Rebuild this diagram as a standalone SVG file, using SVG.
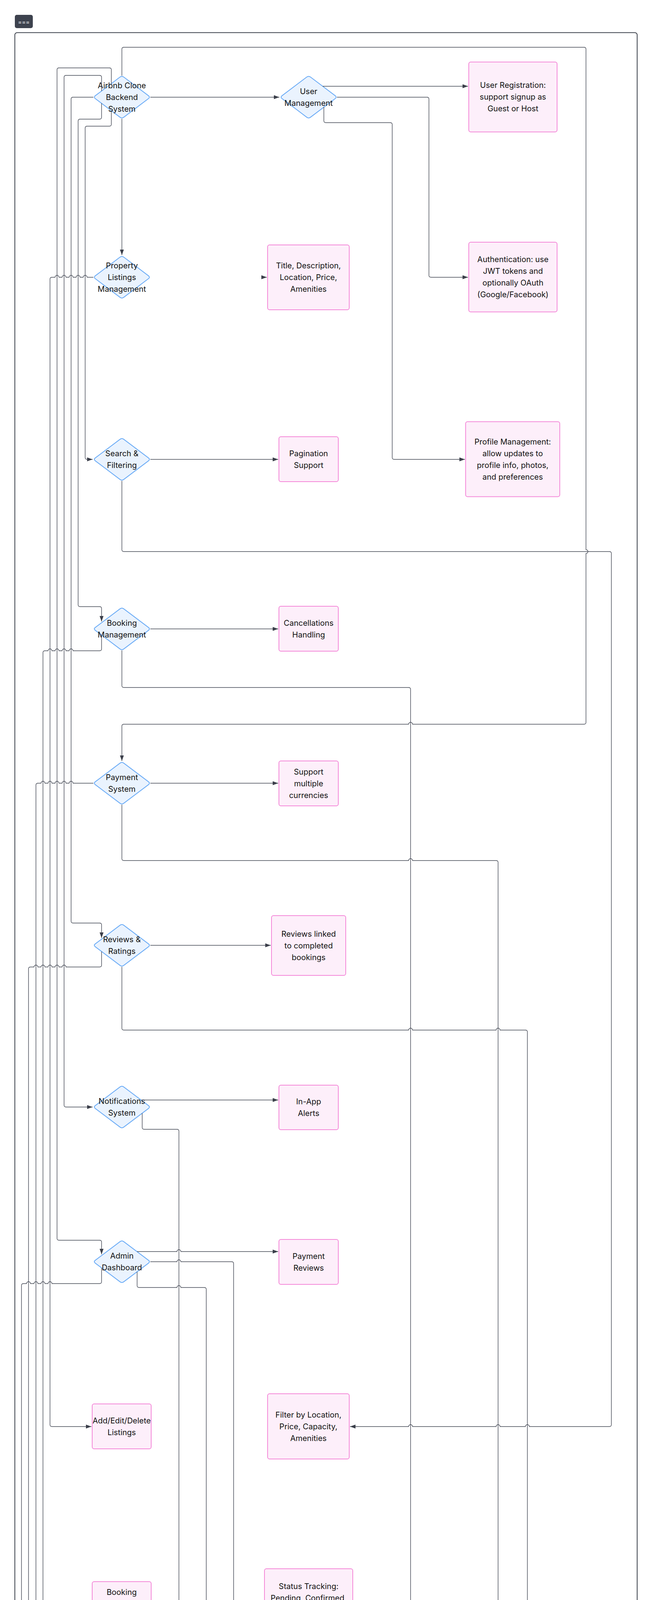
<svg xmlns="http://www.w3.org/2000/svg" width="1669" height="5967" viewBox="0 0 1669 5967">
<style>
.dia{fill:#eaf3fe;stroke:#68aaf6;stroke-width:2}
.box{fill:#fdeffa;stroke:#f48ad9;stroke-width:2}
.lbl{font-family:Inter,"Noto Sans","Liberation Sans",sans-serif;font-size:20px;fill:#111;text-anchor:middle}
.edge{fill:none;stroke:#434854;stroke-width:1.4;marker-end:url(#ah)}
</style>
<defs>
<marker id="ah" viewBox="0 0 14 10" refX="14" refY="5" markerWidth="14" markerHeight="10" markerUnits="userSpaceOnUse" orient="auto"><path d="M0,0 L14,5 L0,10 Z" fill="#3b3f4a"/></marker>
<path id="dia" d="M-4.8,-51.4 Q0,-55 4.8,-51.4 L68.2,-3.6 Q73,0 68.2,3.6 L4.8,51.4 Q0,55 -4.8,51.4 L-68.2,3.6 Q-73,0 -68.2,-3.6 Z"/>
</defs>
<rect x="0" y="0" width="1669" height="5967" fill="#ffffff"/>
<g id="badge">
<rect x="38" y="38" width="46" height="34" rx="5" fill="#3d424e"/>
<text x="61" y="62" font-family="Inter,'Liberation Sans',sans-serif" font-size="15" fill="#ffffff" text-anchor="middle">===</text>
</g>
<rect id="frame" x="38" y="83.5" width="1593" height="5847.5" rx="6" fill="none" stroke="#3b404b" stroke-width="2"/>

<g id="nodes">
<g id="n-root" transform="translate(312,248.7)"><use href="#dia" class="dia"/><text class="lbl"><tspan x="0" y="-23">Airbnb Clone</tspan><tspan x="0" y="7">Backend</tspan><tspan x="0" y="37">System</tspan></text></g>
<g id="n-usermgmt" transform="translate(790,248.7)"><use href="#dia" class="dia"/><text class="lbl"><tspan x="0" y="-8">User</tspan><tspan x="0" y="22">Management</tspan></text></g>
<g id="n-listings" transform="translate(312,709.7)"><use href="#dia" class="dia"/><text class="lbl"><tspan x="0" y="-23">Property</tspan><tspan x="0" y="7">Listings</tspan><tspan x="0" y="37">Management</tspan></text></g>
<g id="n-search" transform="translate(312,1176)"><use href="#dia" class="dia"/><text class="lbl"><tspan x="0" y="-8">Search &amp;</tspan><tspan x="0" y="22">Filtering</tspan></text></g>
<g id="n-booking" transform="translate(312,1610)"><use href="#dia" class="dia"/><text class="lbl"><tspan x="0" y="-8">Booking</tspan><tspan x="0" y="22">Management</tspan></text></g>
<g id="n-payment" transform="translate(312,2005)"><use href="#dia" class="dia"/><text class="lbl"><tspan x="0" y="-8">Payment</tspan><tspan x="0" y="22">System</tspan></text></g>
<g id="n-reviews" transform="translate(312,2420)"><use href="#dia" class="dia"/><text class="lbl"><tspan x="0" y="-8">Reviews &amp;</tspan><tspan x="0" y="22">Ratings</tspan></text></g>
<g id="n-notif" transform="translate(312,2834)"><use href="#dia" class="dia"/><text class="lbl"><tspan x="0" y="-8">Notifications</tspan><tspan x="0" y="22">System</tspan></text></g>
<g id="n-admin" transform="translate(312,3230)"><use href="#dia" class="dia"/><text class="lbl"><tspan x="0" y="-8">Admin</tspan><tspan x="0" y="22">Dashboard</tspan></text></g>

<g id="n-registration" transform="translate(1313,248.3)"><rect class="box" x="-113" y="-89.5" width="226" height="179" rx="5"/><text class="lbl"><tspan x="0" y="-23">User Registration:</tspan><tspan x="0" y="7">support signup as</tspan><tspan x="0" y="37">Guest or Host</tspan></text></g>
<g id="n-auth" transform="translate(1313,709.2)"><rect class="box" x="-113" y="-89.25" width="226" height="178.5" rx="5"/><text class="lbl"><tspan x="0" y="-38">Authentication: use</tspan><tspan x="0" y="-8">JWT tokens and</tspan><tspan x="0" y="22">optionally OAuth</tspan><tspan x="0" y="52">(Google/Facebook)</tspan></text></g>
<g id="n-profile" transform="translate(1312.4,1175.5)"><rect class="box" x="-120.5" y="-96" width="241" height="192" rx="5"/><text class="lbl"><tspan x="0" y="-38">Profile Management:</tspan><tspan x="0" y="-8">allow updates to</tspan><tspan x="0" y="22">profile info, photos,</tspan><tspan x="0" y="52">and preferences</tspan></text></g>
<g id="n-title" transform="translate(789.5,710)"><rect class="box" x="-104.5" y="-83" width="209" height="166" rx="5"/><text class="lbl"><tspan x="0" y="-23">Title, Description,</tspan><tspan x="0" y="7">Location, Price,</tspan><tspan x="0" y="37">Amenities</tspan></text></g>
<g id="n-pagination" transform="translate(790,1175.5)"><rect class="box" x="-76" y="-57.5" width="152" height="115" rx="5"/><text class="lbl"><tspan x="0" y="-8">Pagination</tspan><tspan x="0" y="22">Support</tspan></text></g>
<g id="n-cancel" transform="translate(790,1609.5)"><rect class="box" x="-76" y="-57.5" width="152" height="115" rx="5"/><text class="lbl"><tspan x="0" y="-8">Cancellations</tspan><tspan x="0" y="22">Handling</tspan></text></g>
<g id="n-currencies" transform="translate(790,2005.5)"><rect class="box" x="-76" y="-57.5" width="152" height="115" rx="5"/><text class="lbl"><tspan x="0" y="-23">Support</tspan><tspan x="0" y="7">multiple</tspan><tspan x="0" y="37">currencies</tspan></text></g>
<g id="n-reviewslinked" transform="translate(790,2420.5)"><rect class="box" x="-95" y="-76.5" width="190" height="153" rx="5"/><text class="lbl"><tspan x="0" y="-23">Reviews linked</tspan><tspan x="0" y="7">to completed</tspan><tspan x="0" y="37">bookings</tspan></text></g>
<g id="n-inapp" transform="translate(790,2835)"><rect class="box" x="-76" y="-57" width="152" height="114" rx="5"/><text class="lbl"><tspan x="0" y="-8">In-App</tspan><tspan x="0" y="22">Alerts</tspan></text></g>
<g id="n-payreviews" transform="translate(790,3230.5)"><rect class="box" x="-76" y="-57.5" width="152" height="115" rx="5"/><text class="lbl"><tspan x="0" y="-8">Payment</tspan><tspan x="0" y="22">Reviews</tspan></text></g>
<g id="n-addedit" transform="translate(311.5,3651.5)"><rect class="box" x="-75.5" y="-57.5" width="151" height="115" rx="5"/><text class="lbl"><tspan x="0" y="-8">Add/Edit/Delete</tspan><tspan x="0" y="22">Listings</tspan></text></g>
<g id="n-filter" transform="translate(789.5,3651.5)"><rect class="box" x="-104.5" y="-83.5" width="209" height="167" rx="5"/><text class="lbl"><tspan x="0" y="-23">Filter by Location,</tspan><tspan x="0" y="7">Price, Capacity,</tspan><tspan x="0" y="37">Amenities</tspan></text></g>
<g id="n-bookingcreation" transform="translate(311.5,4106)"><rect class="box" x="-75.5" y="-57" width="151" height="114" rx="5"/><text class="lbl"><tspan x="0" y="-23">Booking</tspan><tspan x="0" y="7">Creation &amp;</tspan><tspan x="0" y="37">Validation</tspan></text></g>
<g id="n-status" transform="translate(790,4106)"><rect class="box" x="-113" y="-90" width="226" height="180" rx="5"/><text class="lbl"><tspan x="0" y="-38">Status Tracking:</tspan><tspan x="0" y="-8">Pending, Confirmed,</tspan><tspan x="0" y="22">Canceled,</tspan><tspan x="0" y="52">Completed</tspan></text></g>
<g id="n-integration" transform="translate(311.5,4573.5)"><rect class="box" x="-75.5" y="-57.5" width="151" height="115" rx="5"/><text class="lbl"><tspan x="0" y="-23">Integration</tspan><tspan x="0" y="7">with Stripe &amp;</tspan><tspan x="0" y="37">PayPal</tspan></text></g>
<g id="n-handle" transform="translate(790,4573)"><rect class="box" x="-121.5" y="-95" width="243" height="190" rx="5"/><text class="lbl"><tspan x="0" y="-38">Handle guest</tspan><tspan x="0" y="-8">payments and</tspan><tspan x="0" y="22">automate payouts to</tspan><tspan x="0" y="52">hosts</tspan></text></g>
<g id="n-guests" transform="translate(311.5,5007.5)"><rect class="box" x="-75.5" y="-57.5" width="151" height="115" rx="5"/><text class="lbl"><tspan x="0" y="-23">Guests</tspan><tspan x="0" y="7">Review</tspan><tspan x="0" y="37">Properties</tspan></text></g>
<g id="n-hosts" transform="translate(790,5007.5)"><rect class="box" x="-76" y="-57.5" width="152" height="115" rx="5"/><text class="lbl"><tspan x="0" y="-23">Hosts</tspan><tspan x="0" y="7">Respond to</tspan><tspan x="0" y="37">Reviews</tspan></text></g>
<g id="n-email" transform="translate(311.5,5403)"><rect class="box" x="-75.5" y="-57" width="151" height="114" rx="5"/><text class="lbl"><tspan x="0" y="-8">Email</tspan><tspan x="0" y="22">Notifications</tspan></text></g>
<g id="n-usermgmt2" transform="translate(790,5403)"><rect class="box" x="-76" y="-57" width="152" height="114" rx="5"/><text class="lbl"><tspan x="0" y="-8">User</tspan><tspan x="0" y="22">Management</tspan></text></g>
<g id="n-propmon" transform="translate(311.5,5798)"><rect class="box" x="-75.5" y="-57" width="151" height="114" rx="5"/><text class="lbl"><tspan x="0" y="-8">Property</tspan><tspan x="0" y="22">Monitoring</tspan></text></g>
<g id="n-oversight" transform="translate(790,5798)"><rect class="box" x="-76" y="-57" width="152" height="114" rx="5"/><text class="lbl"><tspan x="0" y="-8">Booking</tspan><tspan x="0" y="22">Oversight</tspan></text></g>
</g>

<g id="connectors">
<path class="edge" d="M385,248.7 L715,248.7"/>
<path class="edge" d="M312,304 L312,653"/>
<path class="edge" d="M312,193.7 L312,126 Q312,121 317,121 L1495,121 Q1500,121 1500,126 L1500,1407 A5,5 0 0 1 1500,1417 L1500,1849 Q1500,1854 1495,1854 L1056,1854 A5,5 0 0 0 1046,1854 L317,1854 Q312,1854 312,1859 L312,1948"/>
<path class="edge" d="M285,283.4 L285,318 Q285,323 280,323 L223,323 Q218,323 218,328 L218,1171 Q218,1176 223,1176 L237,1176"/>
<path class="edge" d="M260,264.5 L260,300 Q260,305 255,305 L205,305 Q200,305 200,310 L200,1548 Q200,1553 205,1553 L255,1553 Q260,1553 260,1558 L260,1591"/>
<path class="edge" d="M239,248.7 L187,248.7 Q182,248.7 182,253.7 L182,2358 Q182,2363 187,2363 L255,2363 Q260,2363 260,2368 L260,2401"/>
<path class="edge" d="M260,232.9 L260,198 Q260,193 255,193 L169,193 Q164,193 164,198 L164,2829 Q164,2834 169,2834 L237,2834"/>
<path class="edge" d="M285,214 L285,178.7 Q285,173.7 280,173.7 L151,173.7 Q146,173.7 146,178.7 L146,3170 Q146,3175 151,3175 L255,3175 Q260,3175 260,3180 L260,3211"/>
<path class="edge" d="M826,220.7 L1198,220.7"/>
<path class="edge" d="M862.5,248.7 L1093,248.7 Q1098,248.7 1098,253.7 L1098,704.7 Q1098,709.7 1103,709.7 L1198,709.7"/>
<path class="edge" d="M829,274 L829,309 Q829,314 834,314 L999,314 Q1004,314 1004,319 L1004,1171 Q1004,1176 1009,1176 L1190,1176"/>
<path class="edge" d="M669,709.7 L683,709.7"/>
<path class="edge" d="M239,709.7 L223,709.7 A5,5 0 0 0 213,709.7 L205,709.7 A5,5 0 0 0 195,709.7 L187,709.7 A5,5 0 0 0 177,709.7 L169,709.7 A5,5 0 0 0 159,709.7 L151,709.7 A5,5 0 0 0 141,709.7 L133,709.7 Q128,709.7 128,714.7 L128,3647 Q128,3652 133,3652 L234,3652"/>
<path class="edge" d="M385,1176 L712,1176"/>
<path class="edge" d="M312,1231 L312,1407 Q312,1412 317,1412 L1560,1412 Q1565,1412 1565,1417 L1565,3647 Q1565,3652 1560,3652 L1355,3652 A5,5 0 0 0 1345,3652 L1280,3652 A5,5 0 0 0 1270,3652 L1056,3652 A5,5 0 0 0 1046,3652 L896,3652"/>
<path class="edge" d="M385,1610 L712,1610"/>
<path class="edge" d="M312,1665 L312,1755 Q312,1760 317,1760 L1046,1760 Q1051,1760 1051,1765 L1051,4102 Q1051,4107 1046,4107 L905,4107"/>
<path class="edge" d="M260,1626 L260,1661 Q260,1666 255,1666 L187,1666 A5,5 0 0 0 177,1666 L169,1666 A5,5 0 0 0 159,1666 L151,1666 A5,5 0 0 0 141,1666 L133,1666 A5,5 0 0 0 123,1666 L115,1666 Q110,1666 110,1671 L110,4102 Q110,4107 115,4107 L234,4107"/>
<path class="edge" d="M385,2005 L712,2005"/>
<path class="edge" d="M312,2060 L312,2198 Q312,2203 317,2203 L1046,2203 A5,5 0 0 1 1056,2203 L1270,2203 Q1275,2203 1275,2208 L1275,4568 Q1275,4573 1270,4573 L913,4573"/>
<path class="edge" d="M239,2005 L187,2005 A5,5 0 0 0 177,2005 L169,2005 A5,5 0 0 0 159,2005 L151,2005 A5,5 0 0 0 141,2005 L133,2005 A5,5 0 0 0 123,2005 L115,2005 A5,5 0 0 0 105,2005 L97,2005 Q92,2005 92,2010 L92,4568 Q92,4573 97,4573 L234,4573"/>
<path class="edge" d="M385,2420 L693,2420"/>
<path class="edge" d="M312,2475 L312,2632 Q312,2637 317,2637 L1046,2637 A5,5 0 0 1 1056,2637 L1270,2637 A5,5 0 0 1 1280,2637 L1345,2637 Q1350,2637 1350,2642 L1350,5002 Q1350,5007 1345,5007 L868,5007"/>
<path class="edge" d="M260,2436 L260,2470.5 Q260,2475.5 255,2475.5 L169,2475.5 A5,5 0 0 0 159,2475.5 L151,2475.5 A5,5 0 0 0 141,2475.5 L133,2475.5 A5,5 0 0 0 123,2475.5 L115,2475.5 A5,5 0 0 0 105,2475.5 L97,2475.5 A5,5 0 0 0 87,2475.5 L78,2475.5 Q73,2475.5 73,2480.5 L73,5002 Q73,5007 78,5007 L234,5007"/>
<path class="edge" d="M362,2816 L712,2816"/>
<path class="edge" d="M364,2850 L364,2886 Q364,2891 369,2891 L453,2891 Q458,2891 458,2896 L458,5398 Q458,5403 453,5403 L389,5403"/>
<path class="edge" d="M351,3204 L453,3204 A5,5 0 0 1 463,3204 L712,3204"/>
<path class="edge" d="M385,3230 L453,3230 A5,5 0 0 1 463,3230 L593,3230 Q598,3230 598,3235 L598,5398 Q598,5403 603,5403 L712,5403"/>
<path class="edge" d="M351,3256 L351,3291 Q351,3296 356,3296 L453,3296 A5,5 0 0 1 463,3296 L523,3296 Q528,3296 528,3301 L528,5793 Q528,5798 533,5798 L712,5798"/>
<path class="edge" d="M260,3246 L260,3281 Q260,3286 255,3286 L133,3286 A5,5 0 0 0 123,3286 L115,3286 A5,5 0 0 0 105,3286 L97,3286 A5,5 0 0 0 87,3286 L78,3286 A5,5 0 0 0 68,3286 L60,3286 Q55,3286 55,3291 L55,5793 Q55,5798 60,5798 L234,5798"/>
</g>
</svg>
